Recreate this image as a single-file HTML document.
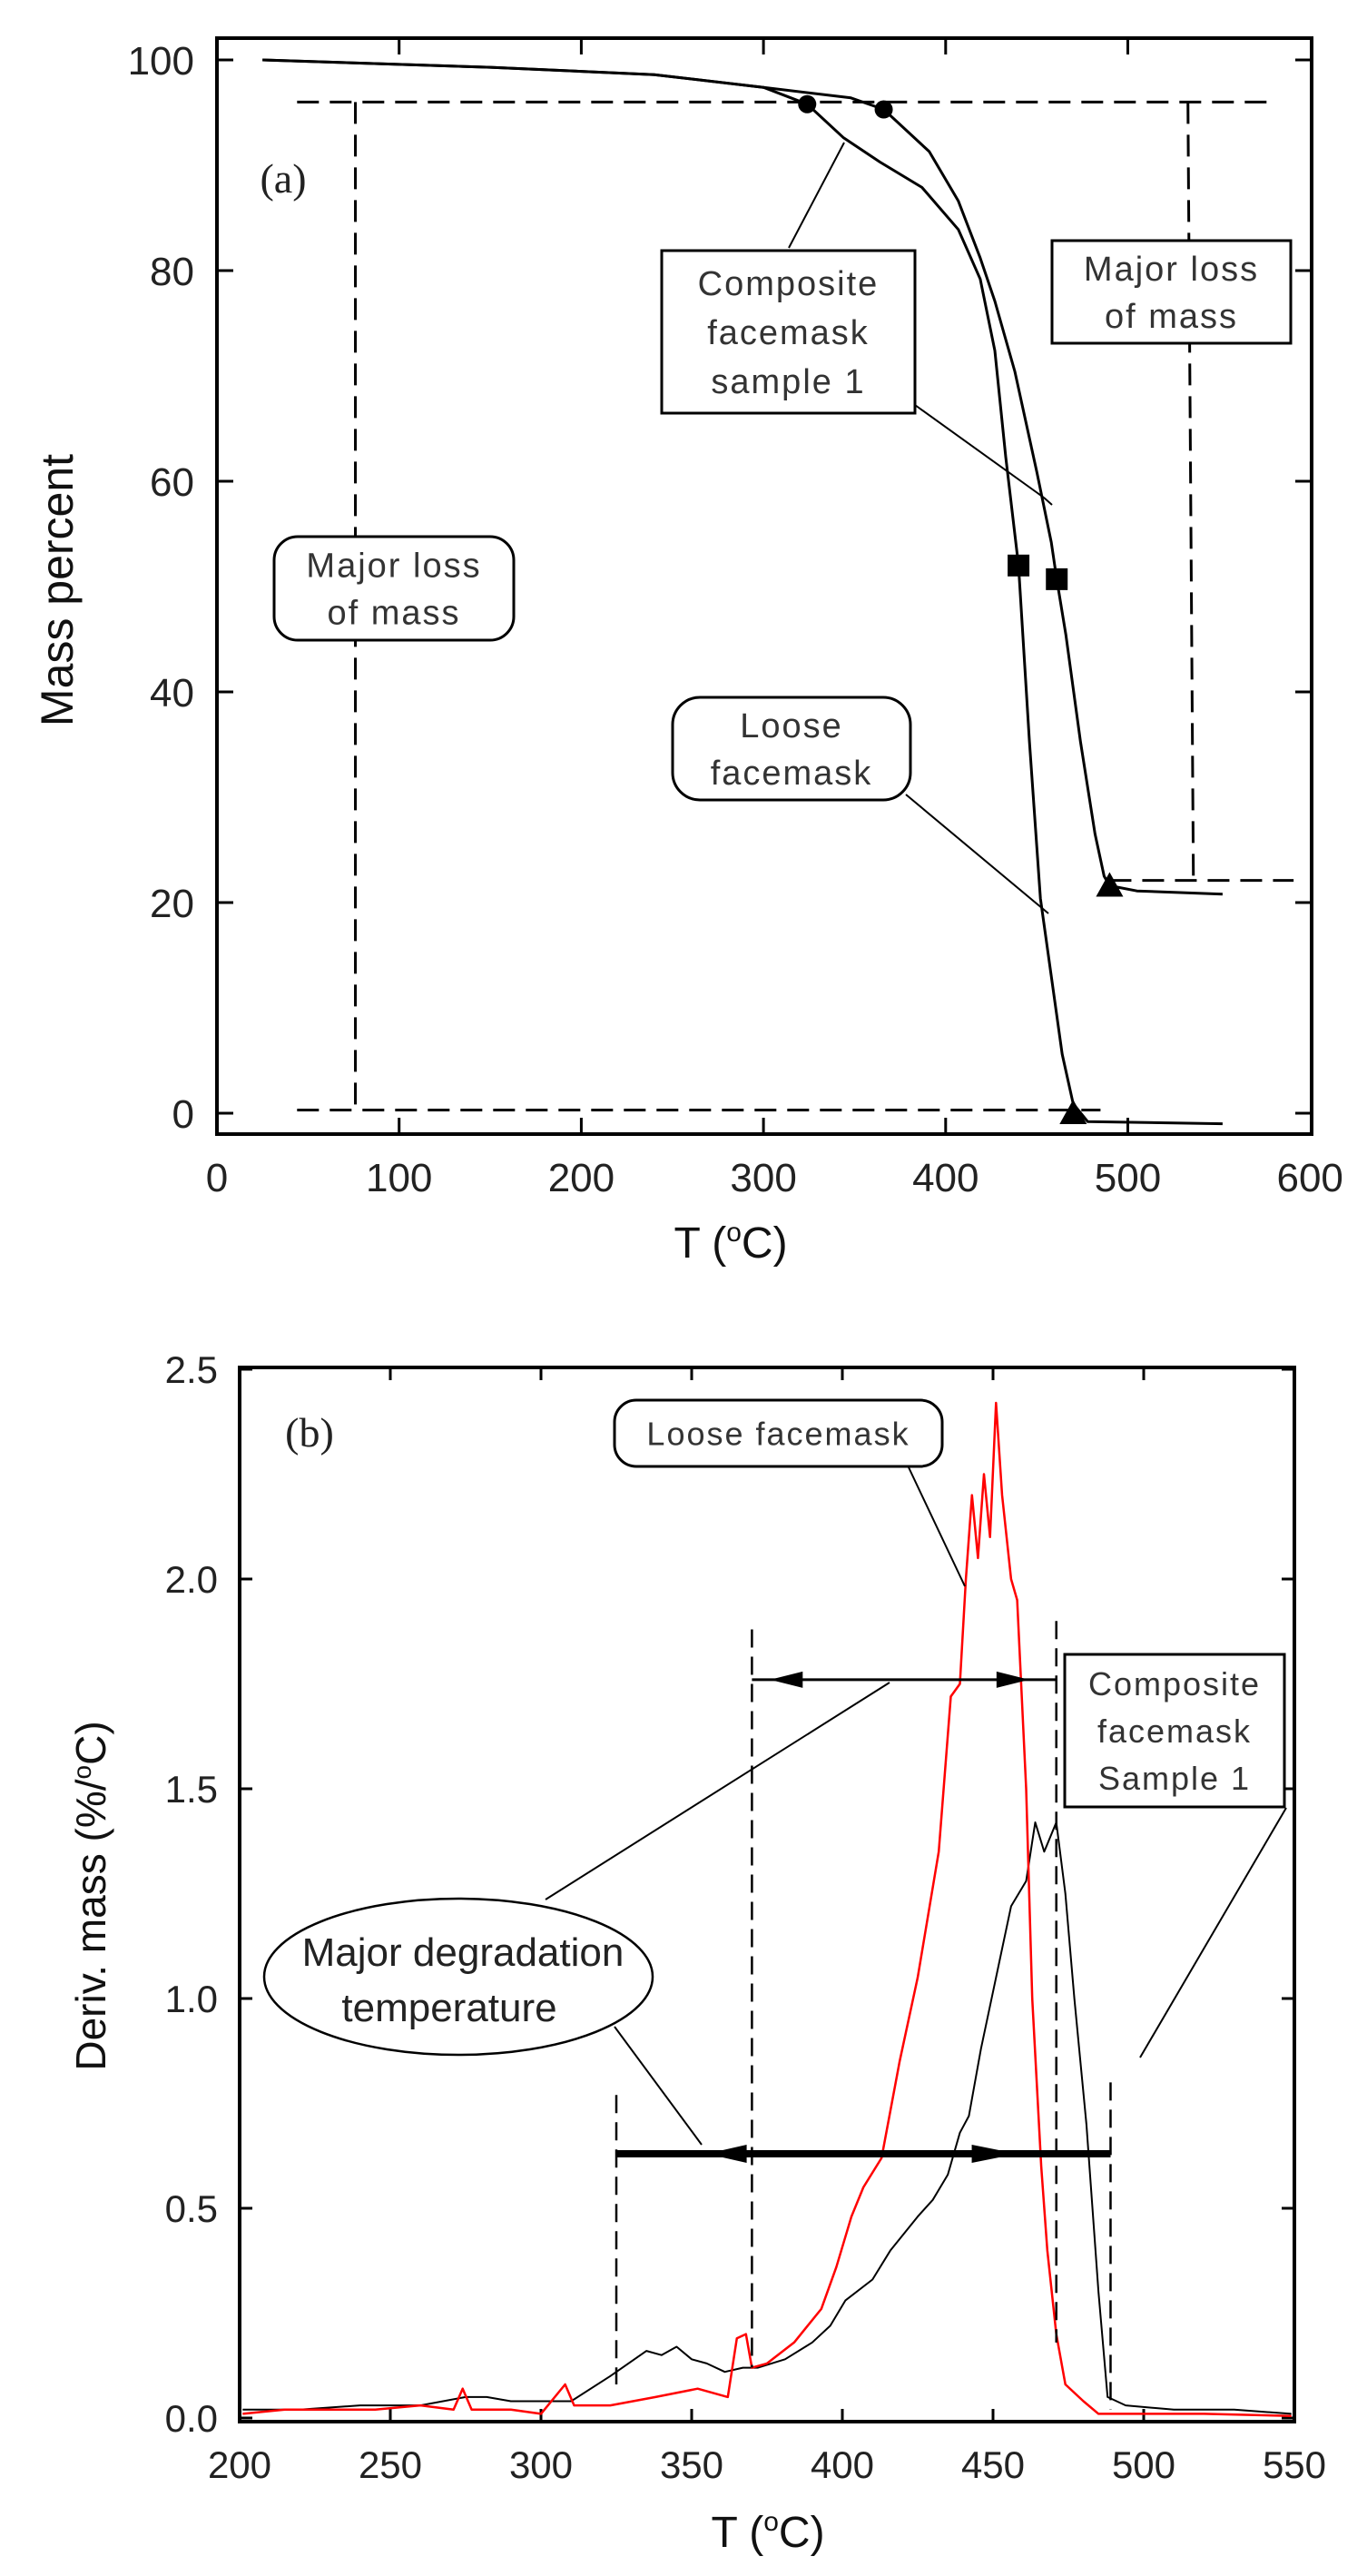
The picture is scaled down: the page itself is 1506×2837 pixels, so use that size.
<!DOCTYPE html>
<html><head><meta charset="utf-8"><title>TGA / DTG facemask</title>
<style>
html,body{margin:0;padding:0;background:#fff;}
svg{display:block;font-family:"Liberation Sans",Arial,sans-serif;}
</style></head>
<body>
<svg id="fig" width="1506" height="2837" viewBox="0 0 1506 2837" xmlns="http://www.w3.org/2000/svg">
<g id="chartA"></g>
<g id="chartB"></g>
</svg>
<script>
// ---------- Chart (a) data ----------
const aXTicks = [0,100,200,300,400,500,600];
const aYTicks = [0,20,40,60,80,100];
const looseT = [25,150,240,300,324,344,364,387,407,419,427,433,440,446,452,458,464,470,478,552];
const looseM = [100,99.3,98.6,97.4,95.8,92.6,90.3,87.9,83.9,79.2,72.4,62.3,52,35.3,20.4,13,5.6,0.9,-0.8,-1];
const compT = [25,150,240,300,348,366,391,407,419,427,438,450,458,461,466,474,482,487,490,505,552];
const compM = [100,99.3,98.6,97.4,96.4,95.3,91.3,86.6,81.2,77.1,70.4,60.9,54.2,50.7,45.4,35.3,26.5,22.5,21.6,21.1,20.8];
const looseMarkT = [324,440,470];
const looseMarkM = [95.8,52,0];
const compMarkT = [366,461,490];
const compMarkM = [95.3,50.7,21.6];

// ---------- Chart (b) data ----------
const bXTicks = [200,250,300,350,400,450,500,550];
const bYTicks = [0,0.5,1.0,1.5,2.0,2.5];
const redT = [201,215,230,245,260,271,274,277,290,300,308,311,323,338,352,362,365,368,370,375,384,393,398,403,407,413,419,425,432,436,439,441,443,445,447,449,451,453,456,458,461,463,466,468,471,474,480,485,497,520,549];
const redD = [0.01,0.02,0.02,0.02,0.03,0.02,0.07,0.02,0.02,0.01,0.08,0.03,0.03,0.05,0.07,0.05,0.19,0.2,0.12,0.13,0.18,0.26,0.36,0.48,0.55,0.62,0.85,1.05,1.35,1.72,1.75,2.0,2.2,2.05,2.25,2.1,2.42,2.2,2.0,1.95,1.5,1.0,0.6,0.4,0.2,0.08,0.04,0.01,0.01,0.01,0.005];
const blkT = [201,220,240,260,275,282,290,300,310,323,335,340,345,350,355,361,367,372,381,390,396,401,410,416,425,430,435,439,442,446,451,456,461,464,467,471,474,477,481,485,488,494,510,530,549];
const blkD = [0.02,0.02,0.03,0.03,0.05,0.05,0.04,0.04,0.04,0.1,0.16,0.15,0.17,0.14,0.13,0.11,0.12,0.12,0.14,0.18,0.22,0.28,0.33,0.4,0.48,0.52,0.58,0.68,0.72,0.88,1.05,1.22,1.28,1.42,1.35,1.42,1.25,1.0,0.7,0.3,0.05,0.03,0.02,0.02,0.01];

const NS = "http://www.w3.org/2000/svg";
function mk(parent, tag, attrs, text){
  const e = document.createElementNS(NS, tag);
  for (const k in attrs) e.setAttribute(k, attrs[k]);
  if (text !== undefined) e.textContent = text;
  parent.appendChild(e);
  return e;
}

// ======== Chart (a) ========
const A = document.getElementById('chartA');
const aL=239, aR=1445, aT=42, aB=1249;
const ax = t => aL + t*2.007;
const ay = v => 66 + (100 - v)*11.6;

let fr = mk(A,'rect',{x:aL,y:aT,width:aR-aL,height:aB-aT,fill:'none',stroke:'#000','stroke-width':4});



aXTicks.forEach(t=>{
  const x = ax(t);
  if (t>0 && t<600){
    let l=mk(A,'line',{x1:x,y1:aB,x2:x,y2:aB-18,stroke:'#000','stroke-width':3});
    
    
    let l2=mk(A,'line',{x1:x,y1:aT,x2:x,y2:aT+18,stroke:'#000','stroke-width':3});
    
    
  }
  let tx=mk(A,'text',{x:x,y:1312,'font-size':44,'text-anchor':'middle',fill:'#222'},String(t));
  
  
});
aYTicks.forEach(v=>{
  const y = ay(v);
  let l=mk(A,'line',{x1:aL,y1:y,x2:aL+18,y2:y,stroke:'#000','stroke-width':3});
  
  
  let l2=mk(A,'line',{x1:aR,y1:y,x2:aR-18,y2:y,stroke:'#000','stroke-width':3});
  
  
  let tx=mk(A,'text',{x:214,y:y+16,'font-size':44,'text-anchor':'end',fill:'#222'},String(v));
  
  
});
let ayt=mk(A,'text',{x:0,y:0,'font-size':50,'text-anchor':'middle',fill:'#111',transform:'translate(80,650) rotate(-90)'},'Mass percent');


let axt=mk(A,'text',{x:805,y:1385,'font-size':48,'text-anchor':'middle',fill:'#111'});


axt.innerHTML='T (<tspan font-size="30" dy="-18">o</tspan><tspan dy="18">C)</tspan>';

const dashA = {stroke:'#000','stroke-width':3,'stroke-dasharray':'24 12',fill:'none'};
[[ax(44),ay(96),ax(582),ay(96)],[ax(76),ay(96),ax(76),ay(0.3)],[ax(44),ay(0.3),ax(485),ay(0.3)],
 [ax(533),ay(96),ax(536),ay(22.1)],[ax(490),ay(22.1),ax(591),ay(22.1)]].forEach(c=>{
  let l=mk(A,'line',Object.assign({x1:c[0],y1:c[1],x2:c[2],y2:c[3]},dashA));
  
  
});

function poly(g, T, V, fx, fy, color, w, name){
  const pts = T.map((t,i)=>fx(t).toFixed(1)+','+fy(V[i]).toFixed(1)).join(' ');
  let p=mk(g,'polyline',{points:pts,fill:'none',stroke:color,'stroke-width':w,'stroke-linejoin':'round'});
  
  
  return p;
}
poly(A, looseT, looseM, ax, ay, '#000', 3, 'loose-facemask-curve');
poly(A, compT, compM, ax, ay, '#000', 3, 'composite-facemask-curve');

function markers(T,V,name){
  T.forEach((t,i)=>{
    const x=ax(t), y=ay(V[i]);
    let m;
    if(i===0) m=mk(A,'circle',{cx:x,cy:y,r:10,fill:'#000'});
    else if(i===1) m=mk(A,'rect',{x:x-12,y:y-12,width:24,height:24,fill:'#000'});
    else m=mk(A,'polygon',{points:`${x},${y-15} ${x-15},${y+12} ${x+15},${y+12}`,fill:'#000'});
    
    
  });
}
markers(looseMarkT,looseMarkM,'loose-marker');
markers(compMarkT,compMarkM,'composite-marker');

function lead(g,x1,y1,x2,y2,w){
  let l=mk(g,'line',{x1:x1,y1:y1,x2:x2,y2:y2,stroke:'#000','stroke-width':w||2});
  
  
}
function box(g,x,y,w,h,rx,lines,fs,name,lh){
  let r=mk(g,'rect',{x:x,y:y,width:w,height:h,rx:rx,fill:'#fff',stroke:'#000','stroke-width':3});
  
  
  const n=lines.length;
  const top=y+(h-n*lh)/2;
  lines.forEach((s,i)=>{
    let t=mk(g,'text',{x:x+w/2,y:top+lh*i+lh*0.5+fs*0.36,'font-size':fs,'text-anchor':'middle',fill:'#333','letter-spacing':2},s);
    
    
  });
}
let la=mk(A,'text',{x:312,y:212,'font-size':46,'font-family':'Liberation Serif, serif',fill:'#222','text-anchor':'middle'},'(a)');


lead(A,869,273,930,157);
lead(A,1008,446,1150,548); lead(A,1150,548,1159,556);
lead(A,998,875,1155,1006);
box(A,729,276,279,179,0,['Composite','facemask','sample 1'],38,'composite-label-box-a',54);
box(A,1159,265,263,113,0,['Major loss','of mass'],38,'major-loss-label-right',52);
box(A,302,591,264,114,26,['Major loss','of mass'],38,'major-loss-label-left',52);
box(A,741,768,262,113,30,['Loose','facemask'],38,'loose-label-box-a',52);

// ======== Chart (b) ========
const B = document.getElementById('chartB');
const bL=264, bR=1426, bT=1506, bB=2667;
const bx = t => bL + (t-200)*3.32;
const by = v => 2663 - v*462;

let frb=mk(B,'rect',{x:bL,y:bT,width:bR-bL,height:bB-bT,fill:'none',stroke:'#000','stroke-width':4});


bXTicks.forEach(t=>{
  const x=bx(t);
  if(t>200&&t<550){
    let l=mk(B,'line',{x1:x,y1:bB,x2:x,y2:bB-14,stroke:'#000','stroke-width':3});
    
    
    let l2=mk(B,'line',{x1:x,y1:bT,x2:x,y2:bT+14,stroke:'#000','stroke-width':3});
    
    
  }
  let tx=mk(B,'text',{x:x,y:2729,'font-size':42,'text-anchor':'middle',fill:'#222'},String(t));
  
  
});
bYTicks.forEach(v=>{
  const y=by(v);
  let l=mk(B,'line',{x1:bL,y1:y,x2:bL+14,y2:y,stroke:'#000','stroke-width':3});
  
  
  let l2=mk(B,'line',{x1:bR,y1:y,x2:bR-14,y2:y,stroke:'#000','stroke-width':3});
  
  
  let tx=mk(B,'text',{x:240,y:y+15,'font-size':42,'text-anchor':'end',fill:'#222'},v.toFixed(1));
  
  
});
let byt=mk(B,'text',{x:0,y:0,'font-size':46,'text-anchor':'middle',fill:'#111',transform:'translate(116,2088) rotate(-90)'});


byt.innerHTML='Deriv. mass (%/<tspan font-size="28" dy="-16">o</tspan><tspan dy="16">C)</tspan>';
let bxt=mk(B,'text',{x:846,y:2805,'font-size':48,'text-anchor':'middle',fill:'#111'});


bxt.innerHTML='T (<tspan font-size="30" dy="-18">o</tspan><tspan dy="18">C)</tspan>';

poly(B, blkT, blkD, bx, by, '#000', 2, 'composite-dtg-curve');
poly(B, redT, redD, bx, by, '#ff0000', 2.5, 'loose-dtg-curve');

const dashB={stroke:'#000','stroke-width':2.5,'stroke-dasharray':'20 10',fill:'none'};
[[325,0.77,325,0.08],[370,1.88,370,0.12],[471,1.9,471,0.18],[489,0.8,489,0.02]].forEach(c=>{
  let l=mk(B,'line',Object.assign({x1:bx(c[0]),y1:by(c[1]),x2:bx(c[2]),y2:by(c[3])},dashB));
  
  
});
let thin=mk(B,'line',{x1:bx(370),y1:by(1.76),x2:bx(471),y2:by(1.76),stroke:'#000','stroke-width':3});


let thick=mk(B,'line',{x1:bx(325),y1:by(0.63),x2:bx(489),y2:by(0.63),stroke:'#000','stroke-width':8});


function arrow(t,v,dir,len,h,name){
  const x=bx(t), y=by(v);
  let p=mk(B,'polygon',{points:`${x},${y} ${x-dir*len},${y-h} ${x-dir*len},${y+h}`,fill:'#000'});
  
  
}
arrow(376,1.76,-1,36,9,'arrowhead');
arrow(462,1.76,1,36,9,'arrowhead');
arrow(355,0.63,-1,44,10,'arrowhead');
arrow(458,0.63,1,50,10,'arrowhead');

let lb=mk(B,'text',{x:341,y:1593,'font-size':46,'font-family':'Liberation Serif, serif',fill:'#222','text-anchor':'middle'},'(b)');



lead(B,1001,1616,1063,1747);
lead(B,1417,1991,1256,2266);
lead(B,601,2092,980,1853);
lead(B,677,2232,773,2362);
box(B,677,1542,361,73,24,['Loose facemask'],36,'loose-label-box-b',73);
box(B,1173,1822,242,168,0,['Composite','facemask','Sample 1'],36,'composite-label-box-b',52);

let el=mk(B,'ellipse',{cx:505,cy:2177,rx:214,ry:86,fill:'#fff',stroke:'#000','stroke-width':2.5});


let e1=mk(B,'text',{x:510,y:2165,'font-size':44,'text-anchor':'middle',fill:'#222'},'Major degradation');


let e2=mk(B,'text',{x:495,y:2226,'font-size':44,'text-anchor':'middle',fill:'#222'},'temperature');


</script>
</body></html>
